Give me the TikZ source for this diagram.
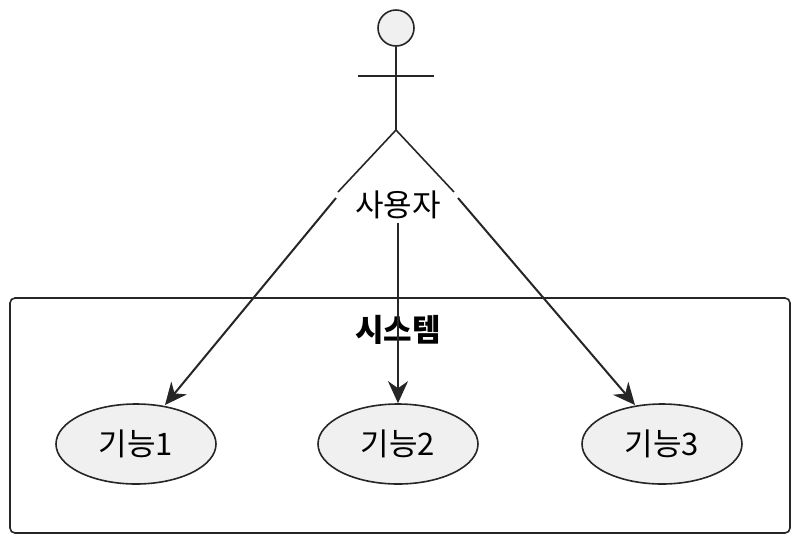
\documentclass[tikz,border=0pt]{standalone}
\usepackage{fontspec}
\setmainfont{Noto Sans CJK KR}
\usetikzlibrary{arrows.meta,shapes.geometric}
\begin{document}
\begin{tikzpicture}[x=1pt,y=-1pt,
  line/.style={draw=black!85,line width=1.6pt},
  uc/.style={ellipse,draw=black!85,line width=1.6pt,fill=black!6,minimum width=160pt,minimum height=80pt,font=\fontsize{31}{34}\selectfont},
  arr/.style={line,line width=2pt,-{Stealth[length=22pt,width=20pt,inset=7pt]}}]
\useasboundingbox (0,0) rectangle (800,542);
\draw[line,rounded corners=5pt] (10,298) rectangle (790,533);
\node[font=\fontsize{31}{34}\selectfont\bfseries] (sys) at (398,330) {시스템};
\node[circle,draw=black!85,line width=1.6pt,fill=black!6,minimum size=36pt,inner sep=0pt] (head) at (396,28) {};
\coordinate (hip) at (396,130);
\draw[line] (head.south) -- (hip);
\draw[line] (358,76) -- (434,76);
\draw[line] (338,192) -- (hip) -- (454,192);
\node[font=\fontsize{31}{34}\selectfont] (actor) at (398,205) {사용자};
\node[uc] (u1) at (136,444) {기능1};
\node[uc] (u2) at (398,444) {기능2};
\node[uc] (u3) at (662,444) {기능3};
\coordinate (s1) at (336,198);
\coordinate (s3) at (458,198);
\coordinate (e1) at (165,405);
\coordinate (e3) at (635,405);
\draw[arr] (s1) -- (e1);
\draw[arr] (actor.south) -- (u2.north);
\draw[arr] (s3) -- (e3);
\end{tikzpicture}
\end{document}
